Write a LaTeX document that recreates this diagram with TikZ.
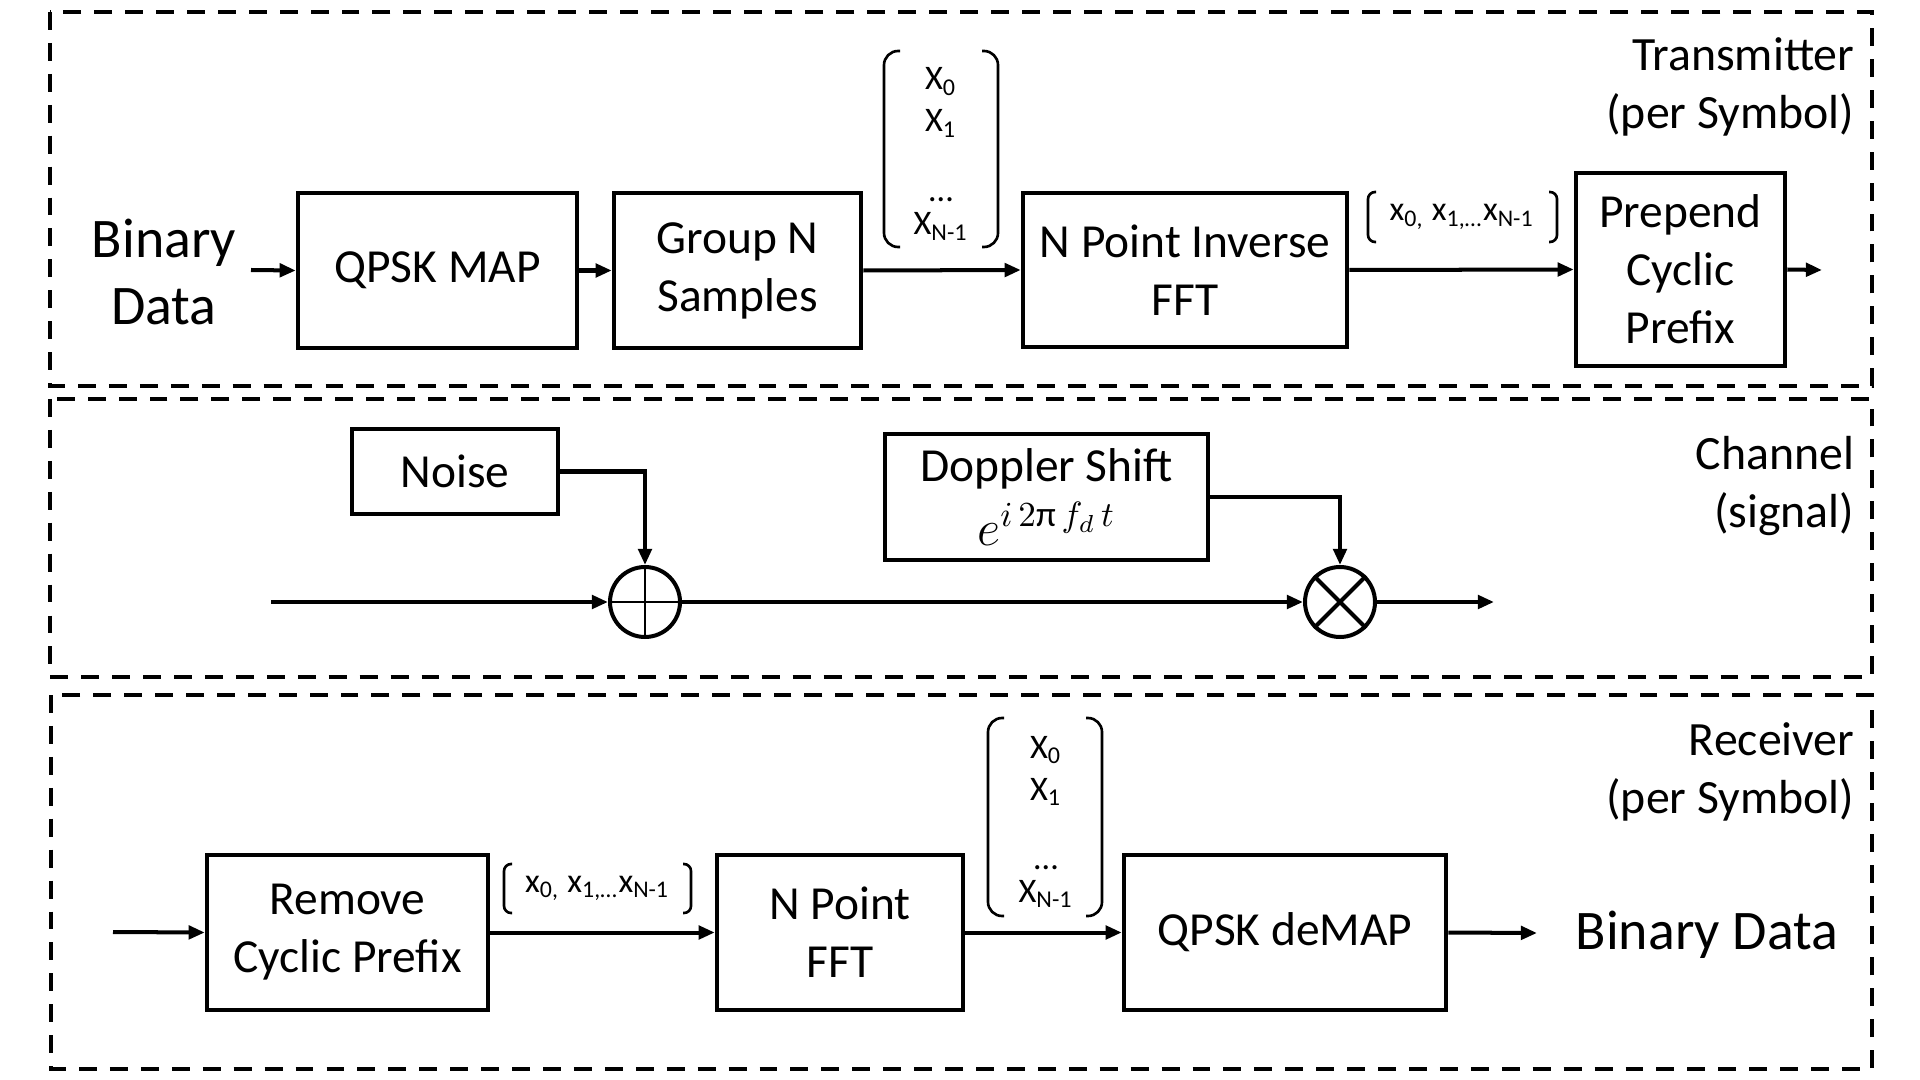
\documentclass[tikz,border=0pt]{standalone}
\usepackage{fontspec}
\setmainfont{Carlito}
\usepackage{amsmath}
\usepackage{tikz}
\usetikzlibrary{calc}
\usetikzlibrary{arrows.meta}
\usetikzlibrary{positioning}

\begin{document}
\begin{tikzpicture}[
        block/.style={draw, line width=1.28pt, align=center, inner sep=0pt,
                      font=\fontsize{13.5}{16.5}\selectfont},
        sig/.style={line width=1.14pt, -{Triangle[length=4.6pt, width=3.8pt]}},
        frame/.style={line width=1.28pt, dash pattern=on 5.1pt off 3.7pt},
        paren/.style={line width=0.75pt, rounded corners=4pt},
        hparen/.style={line width=0.75pt, rounded corners=2pt},
        sum/.style={circle, draw, line width=1.14pt, minimum size=0.70cm, inner sep=0pt},
        veclbl/.style={inner sep=0pt, anchor=base, font=\fontsize{9.8}{11}\selectfont},
        seqlbl/.style={inner sep=0pt, font=\fontsize{9.7}{11}\selectfont},
        bigtxt/.style={inner sep=0pt, align=center, font=\fontsize{15.9}{19}\selectfont},
        partlbl/.style={inner sep=0pt, align=right, anchor=east, font=\fontsize{13.6}{16.5}\selectfont}
    ]
            % Canvas
            \useasboundingbox                                                 (0.00, 0.00) rectangle (19.20,-10.80);
            % Frames
            \draw[frame]                                                      (0.50,-0.12) rectangle (18.72,-3.86);
            \draw[frame]                                                      (0.50,-3.99) rectangle (18.72,-6.77);
            \draw[frame]                                                      (0.51,-6.95) rectangle (18.72,-10.69);

            % Transmitter (per Symbol)
            \node[partlbl]                                   (lblTx)   at (18.55,-0.87) {Transmitter\\(per Symbol)};
            \node[bigtxt]                                    (bitsTx)  at ( 1.64,-2.72) {Binary\\Data};
            \coordinate                                      (inTx)    at ( 2.51,-2.70);
            \node[block, minimum width=2.79cm, minimum height=1.55cm] (qpsk)    at ( 4.375,-2.705) {QPSK MAP};
            \node[block, minimum width=2.47cm, minimum height=1.55cm] (group)   at ( 7.375,-2.705) {Group N\\Samples};
            \node[block, minimum width=3.24cm, minimum height=1.54cm] (ifft)    at (11.85,-2.70) {N Point Inverse\\FFT};
            \node[block, minimum width=2.09cm, minimum height=1.93cm] (prepend) at (16.805,-2.695) {Prepend\\Cyclic\\Prefix};
            \coordinate                                      (outTx)   at (18.22,-2.70);
            % symbol vector after grouping
            \node[veclbl]                                    (xT0)     at ( 9.41,-0.90) {X\textsubscript{0}};
            \node[veclbl]                                    (xT1)     at ( 9.41,-1.32) {X\textsubscript{1}};
            \node[veclbl]                                    (xTd)     at ( 9.41,-2.02) {…};
            \node[veclbl]                                    (xTn)     at ( 9.41,-2.35) {X\textsubscript{N-1}};
            \draw[paren] ( 9.00,-0.51) -- ( 8.84,-0.51) -- ( 8.84,-2.47) -- ( 9.00,-2.47);
            \draw[paren] ( 9.82,-0.51) -- ( 9.98,-0.51) -- ( 9.98,-2.47) -- ( 9.82,-2.47);
            % time samples after IFFT
            \node[seqlbl]                                    (seqTx)   at (14.62,-2.17) {x\textsubscript{0,} x\textsubscript{1,…}x\textsubscript{N-1}};
            \draw[hparen] (13.76,-1.92) -- (13.68,-1.92) -- (13.68,-2.42) -- (13.76,-2.42);
            \draw[hparen] (15.49,-1.92) -- (15.57,-1.92) -- (15.57,-2.42) -- (15.49,-2.42);
            % Transmitter arrows
            \draw[sig] (inTx)          -- (qpsk.west);
            \draw[sig] (qpsk.east)     -- (group.west);
            \draw[sig] (group.east)    -- (ifft.west);
            \draw[sig] (ifft.east)     -- (prepend.west);
            \draw[sig] (prepend.east)  -- (outTx);

            % Channel (signal)
            \node[partlbl]                                   (lblCh)   at (18.55,-4.86) {Channel\\(signal)};
            \node[block, minimum width=2.06cm, minimum height=0.85cm] (noise)   at ( 4.55,-4.715) {Noise};
            \node[block, minimum width=3.23cm, minimum height=1.26cm] (doppler) at (10.465,-4.97)
                 {Doppler Shift\\[1.5pt]{\fontsize{14.5}{16}\selectfont$e^{i\,2\text{π}\,f_d\,t}$}};
            \coordinate                                      (inCh)    at ( 2.71,-6.02);
            \node[sum]                                       (adder)   at ( 6.45,-6.02) {};
            \node[sum]                                       (mixer)   at (13.40,-6.02) {};
            \coordinate                                      (outCh)   at (14.94,-6.02);
            \draw[line width=0.7pt]  (adder.north) -- (adder.south) (adder.west) -- (adder.east);
            \draw[line width=1.14pt] (mixer.north west) -- (mixer.south east) (mixer.south west) -- (mixer.north east);
            % Channel arrows
            \draw[sig] (noise.east)    -| (adder.north);
            \draw[sig] (doppler.east)  -| (mixer.north);
            \draw[sig] (inCh)          -- (adder.west);
            \draw[sig] (adder.east)    -- (mixer.west);
            \draw[sig] (mixer.east)    -- (outCh);

            % Receiver (per Symbol)
            \node[partlbl]                                   (lblRx)   at (18.55,-7.72) {Receiver\\(per Symbol)};
            \coordinate                                      (inRx)    at ( 1.13,-9.32);
            \node[block, minimum width=2.81cm, minimum height=1.55cm] (remove)  at ( 3.475,-9.325) {Remove\\Cyclic Prefix};
            \node[block, minimum width=2.46cm, minimum height=1.55cm] (fft)     at ( 8.40,-9.325) {N Point\\FFT};
            \node[block, minimum width=3.22cm, minimum height=1.55cm] (demap)   at (12.85,-9.325) {QPSK deMAP};
            \coordinate                                      (outRx)   at (15.37,-9.33);
            \node[bigtxt]                                    (bitsRx)  at (17.07,-9.35) {Binary Data};
            % time samples after prefix removal
            \node[seqlbl]                                    (seqRx)   at ( 5.975,-8.885) {x\textsubscript{0,} x\textsubscript{1,…}x\textsubscript{N-1}};
            \draw[hparen] ( 5.12,-8.64) -- ( 5.04,-8.64) -- ( 5.04,-9.13) -- ( 5.12,-9.13);
            \draw[hparen] ( 6.83,-8.64) -- ( 6.91,-8.64) -- ( 6.91,-9.13) -- ( 6.83,-9.13);
            % symbol vector after FFT
            \node[veclbl]                                    (xR0)     at (10.46,-7.58) {X\textsubscript{0}};
            \node[veclbl]                                    (xR1)     at (10.46,-8.00) {X\textsubscript{1}};
            \node[veclbl]                                    (xRd)     at (10.46,-8.69) {…};
            \node[veclbl]                                    (xRn)     at (10.46,-9.02) {X\textsubscript{N-1}};
            \draw[paren] (10.04,-7.18) -- ( 9.88,-7.18) -- ( 9.88,-9.16) -- (10.04,-9.16);
            \draw[paren] (10.86,-7.18) -- (11.02,-7.18) -- (11.02,-9.16) -- (10.86,-9.16);
            % Receiver arrows
            \draw[sig] (inRx)          -- (remove.west);
            \draw[sig] (remove.east)   -- (fft.west);
            \draw[sig] (fft.east)      -- (demap.west);
            \draw[sig] (demap.east)    -- (outRx);
\end{tikzpicture}
\end{document}
